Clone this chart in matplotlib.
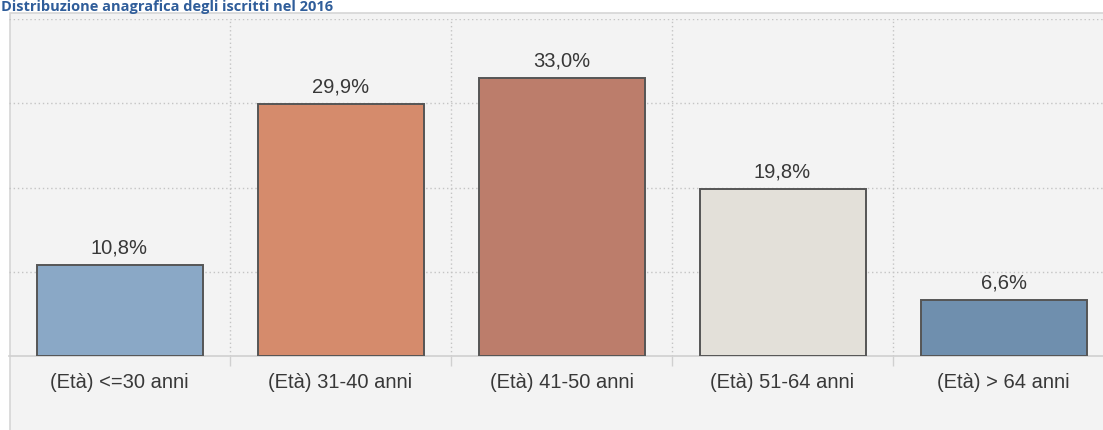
import matplotlib
matplotlib.use("Agg")
import matplotlib.pyplot as plt
from matplotlib.patches import Rectangle

categories = ["(Età) <=30 anni", "(Età) 31-40 anni", "(Età) 41-50 anni",
              "(Età) 51-64 anni", "(Età) > 64 anni"]
values = [10.8, 29.9, 33.0, 19.8, 6.6]
value_labels = ["10,8%", "29,9%", "33,0%", "19,8%", "6,6%"]
colors = ["#8aa8c6", "#d58b6c", "#bc7d6b", "#e3e0d9", "#6f8fae"]
title = "Distribuzione anagrafica degli iscritti nel 2016"

W, H = 1103, 430
fig = plt.figure(figsize=(W / 100, H / 100), dpi=100)
fig.patch.set_facecolor("white")

# grey panel
panel = Rectangle((10 / W, -0.01), 1.0, (H - 13) / H + 0.01, transform=fig.transFigure,
                  facecolor="#f3f3f3", edgecolor="#d6d6d6", linewidth=1.2, zorder=-5)
fig.patches.append(panel)

fig.text(1 / W, (H - 10.5) / H, title, fontsize=10.5, fontweight="bold",
         color="#2f5d9a", family=["Open Sans", "DejaVu Sans"], va="baseline", ha="left")

left = 9 / W
bottom = (H - 356) / H
top = (H - 19) / H
ax = fig.add_axes([left, bottom, 1 - left, top - bottom])
ax.set_facecolor("none")
ax.set_zorder(2)

cat_w = 221.0
xmin = -0.5
xmax = xmin + (W - 9) / cat_w
x = list(range(len(categories)))
bars = ax.bar(x, values, width=166 / cat_w, color=colors, edgecolor="#555555",
              linewidth=1.4, zorder=3)

label_font = ["Liberation Sans", "DejaVu Sans"]
for xi, v, lab in zip(x, values, value_labels):
    ax.annotate(lab, (xi, v), xytext=(0, 8.6), textcoords="offset points",
                ha="center", va="baseline", fontsize=14.5, color="#383838",
                family=label_font, zorder=4)

ax.set_xlim(xmin, xmax)
ax.set_ylim(0, 40)
ax.set_yticks([10, 20, 30, 40])
ax.yaxis.grid(True, color="#c4c4c4", linestyle=(0, (1, 2)), linewidth=1.0, zorder=1)
ax.tick_params(axis="y", length=0, labelleft=False)

ax.set_xticks(x)
ax.set_xticklabels(categories, fontsize=14.5, color="#383838", family=label_font)
ax.set_xticks([0.5, 1.5, 2.5, 3.5], minor=True)
ax.xaxis.grid(True, which="minor", color="#c4c4c4", linestyle=(0, (1, 2)),
              linewidth=1.0, zorder=1)
ax.tick_params(axis="x", which="major", length=0, pad=12)
ax.tick_params(axis="x", which="minor", length=7.2, width=1.0, color="#d0d0d0",
               direction="out")
ax.set_axisbelow(True)

for s in ["top", "right", "left"]:
    ax.spines[s].set_visible(False)
ax.spines["bottom"].set_color("#d0d0d0")
ax.spines["bottom"].set_linewidth(1.2)

fig.savefig("out.png", dpi=100, facecolor="white")
